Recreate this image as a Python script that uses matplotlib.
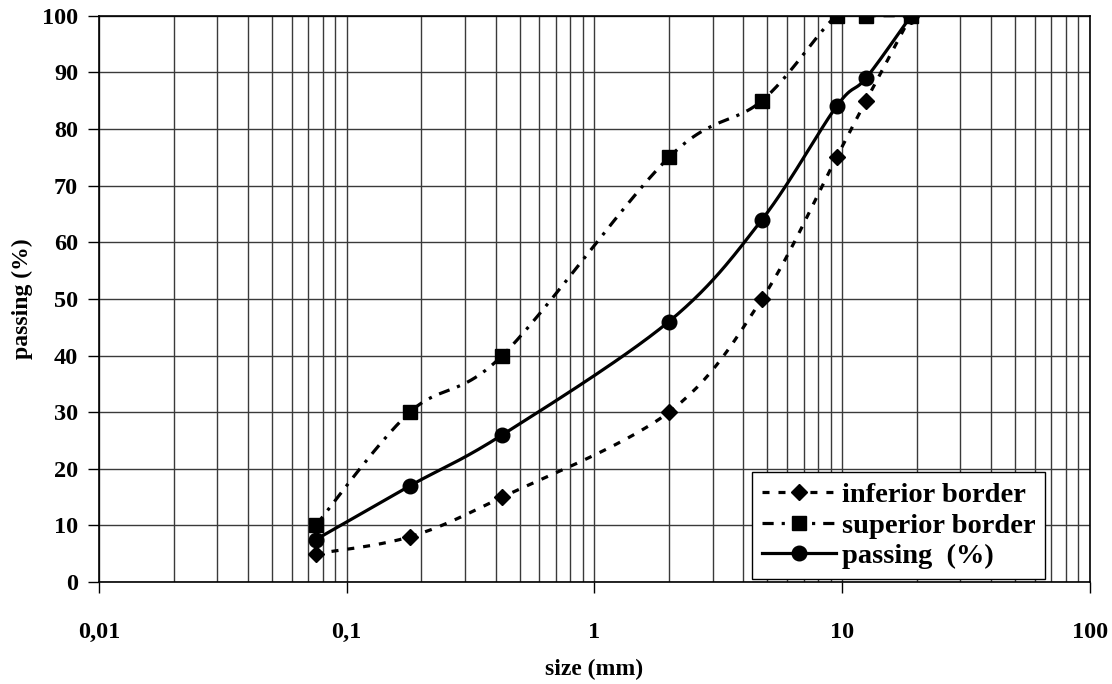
import numpy as np
import matplotlib
matplotlib.use('Agg')
import matplotlib.pyplot as plt
from matplotlib.ticker import FixedLocator, FuncFormatter, LogLocator, NullFormatter

plt.rcParams['font.family'] = 'Liberation Serif'
plt.rcParams['font.weight'] = 'bold'

# sieve sizes (mm) and percent passing
sizes = [0.075, 0.18, 0.425, 2.0, 4.75, 9.5, 12.5, 19.0]
inferior = [5, 8, 15, 30, 50, 75, 85, 100]
superior = [10, 30, 40, 75, 85, 100, 100, 100]
passing = [7.5, 17, 26, 46, 64, 84, 89, 100]

x_ticks = [0.01, 0.1, 1, 10, 100]
x_labels = ['0,01', '0,1', '1', '10', '100']


def smooth(xs, ys, n=30):
    # Excel-like smoothed line (Catmull-Rom in log-x / y space)
    lx = np.log10(xs)
    y = np.asarray(ys, dtype=float)
    px = np.concatenate([[lx[0]], lx, [lx[-1]]])
    py = np.concatenate([[y[0]], y, [y[-1]]])
    outx, outy = [], []
    t = np.linspace(0, 1, n)
    for i in range(1, len(px) - 2):
        p0, p1, p2, p3 = px[i-1], px[i], px[i+1], px[i+2]
        q0, q1, q2, q3 = py[i-1], py[i], py[i+1], py[i+2]
        c1x, c1y = p1 + (p2 - p0) / 6, q1 + (q2 - q0) / 6
        c2x, c2y = p2 - (p3 - p1) / 6, q2 - (q3 - q1) / 6
        bx = (1-t)**3*p1 + 3*(1-t)**2*t*c1x + 3*(1-t)*t**2*c2x + t**3*p2
        by = (1-t)**3*q1 + 3*(1-t)**2*t*c1y + 3*(1-t)*t**2*c2y + t**3*q2
        outx.extend(bx)
        outy.extend(by)
    return 10**np.array(outx), np.array(outy)


fig = plt.figure(figsize=(11.12, 6.84), dpi=100)
ax = fig.add_axes([0.089, 0.149, 0.891, 0.828])

series = [
    (inferior, 'inferior border', (0, (2.2, 2.8)), 'D', 8.5),
    (superior, 'superior border', (0, (3.5, 2.5, 1, 2.5)), 's', 10.5),
    (passing, 'passing  (%)', '-', 'o', 10.5),
]
handles = []
for vals, name, ls, mk, ms in series:
    sx, sy = smooth(sizes, vals)
    ax.plot(sx, sy, color='black', lw=2.3, linestyle=ls, zorder=3)
    ax.plot(sizes, vals, linestyle='none', marker=mk, ms=ms,
            color='black', zorder=4)
    h, = ax.plot([], [], color='black', lw=2.3, linestyle=ls,
                 marker=mk, ms=ms, label=name)
    handles.append(h)

ax.set_xscale('log')
ax.set_xlim(0.01, 100)
ax.set_ylim(0, 100)
ax.xaxis.set_major_locator(FixedLocator(x_ticks))
ax.xaxis.set_major_formatter(FuncFormatter(
    lambda v, p: x_labels[x_ticks.index(v)] if v in x_ticks else ''))
ax.xaxis.set_minor_locator(LogLocator(base=10, subs=np.arange(2, 10)))
ax.xaxis.set_minor_formatter(NullFormatter())
ax.set_yticks(range(0, 101, 10))

ax.grid(True, which='major', color='#3a3a3a', lw=1)
ax.grid(True, which='minor', axis='x', color='#3a3a3a', lw=1)
ax.tick_params(which='major', direction='out', length=8, width=1,
               labelsize=17.5, pad=7)
ax.tick_params(axis='x', which='minor', length=0)
ax.tick_params(axis='x', which='major', pad=21)
for s in ax.spines.values():
    s.set_color('black')
    s.set_linewidth(1.2)

ax.set_xlabel('size (mm)', fontsize=17, fontweight='bold', labelpad=11)
ax.set_ylabel('passing (%)', fontsize=17, fontweight='bold')
ax.yaxis.set_label_coords(-0.067, 0.5)

leg = ax.legend(handles=handles, loc='lower right',
                bbox_to_anchor=(0.955, 0.006), fontsize=20.5,
                frameon=True, fancybox=False, edgecolor='black',
                handlelength=2.6, handletextpad=0.2, borderpad=0.35,
                labelspacing=0.15, numpoints=1, framealpha=1,
                borderaxespad=0)
leg.get_frame().set_linewidth(1)

fig.savefig('out.png', dpi=100)
